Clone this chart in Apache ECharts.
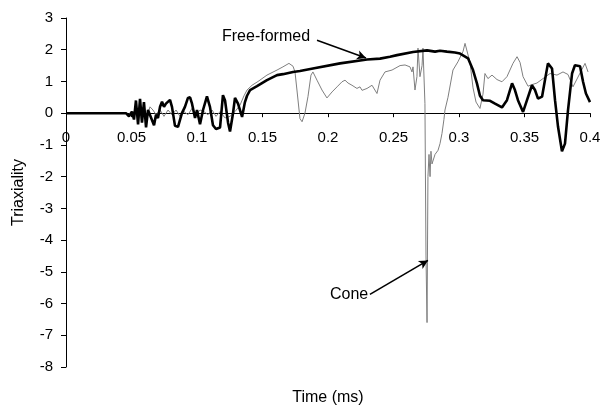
<!DOCTYPE html>
<html><head><meta charset="utf-8">
<script src="https://cdn.jsdelivr.net/npm/echarts@6/dist/echarts.min.js"></script>
<style>html,body{margin:0;padding:0;background:#fff}#c{width:600px;height:406px}</style>
</head><body><div id="c"></div>
<script>
// Free-formed (thick black) curve: time (ms) and triaxiality
var freeT = [0,0.0458,0.0481,0.0504,0.0519,0.0534,0.0550,0.0565,0.0580,0.0595,0.0611,0.0626,0.0641,0.0672,0.0687,0.0702,0.0718,0.0733,0.0748,0.0763,0.0794,0.0809,0.0832,0.0855,0.0885,0.0908,0.0931,0.0947,0.0962,0.0985,0.1000,0.1023,0.1046,0.1076,0.1099,0.1122,0.1145,0.1176,0.1198,0.1214,0.1237,0.1252,0.1275,0.1290,0.1313,0.1344,0.1366,0.1382,0.1405,0.1458,0.1534,0.1611,0.1656,0.1733,0.1786,0.1885,0.2092,0.2298,0.2397,0.2473,0.2527,0.2649,0.2756,0.2817,0.2855,0.2908,0.2969,0.3008,0.3069,0.3107,0.3137,0.3160,0.3183,0.3237,0.3275,0.3328,0.3366,0.3405,0.3427,0.3450,0.3489,0.3519,0.3557,0.3580,0.3603,0.3634,0.3656,0.3679,0.3710,0.3733,0.3756,0.3786,0.3809,0.3832,0.3863,0.3885,0.3924,0.3947,0.3969,0.4000];
var freeV = [0,0,-0.1,0.05,-0.2,0.4,-0.35,0.45,-0.3,0.35,-0.45,0.1,0.05,-0.38,-0.05,-0.15,0.2,0.36,0.2,0.3,0.42,0.2,-0.4,-0.43,0.0,0.2,0.48,0.5,0.3,-0.15,0.1,-0.35,0.1,0.53,0.2,-0.38,-0.5,-0.45,0.57,0.4,-0.3,-0.58,0.0,0.48,0.3,-0.12,0.35,0.55,0.73,0.85,1.04,1.2,1.23,1.3,1.33,1.41,1.57,1.69,1.72,1.78,1.83,1.93,1.98,1.94,1.97,1.94,1.91,1.88,1.73,1.36,0.94,0.55,0.41,0.39,0.30,0.18,0.41,0.94,0.73,0.41,0.04,0.41,0.88,0.73,0.46,0.52,1.04,1.57,1.41,0.41,-0.43,-1.2,-0.96,0.09,1.25,1.51,1.48,0.99,0.62,0.35];
// Cone (thin grey) curve
var coneT = [0,0.0458,0.0473,0.0496,0.0511,0.0534,0.0550,0.0573,0.0595,0.0618,0.0641,0.0664,0.0687,0.0718,0.0748,0.0779,0.0809,0.0840,0.0870,0.0901,0.0931,0.0962,0.0992,0.1023,0.1053,0.1084,0.1115,0.1145,0.1176,0.1214,0.1252,0.1290,0.1328,0.1359,0.1382,0.1420,0.1466,0.1534,0.1611,0.1656,0.1702,0.1733,0.1748,0.1763,0.1786,0.1802,0.1824,0.1847,0.1870,0.1885,0.1916,0.1954,0.1992,0.2031,0.2069,0.2107,0.2130,0.2153,0.2183,0.2221,0.2244,0.2260,0.2298,0.2336,0.2374,0.2397,0.2435,0.2489,0.2550,0.2588,0.2626,0.2641,0.2649,0.2664,0.2679,0.2687,0.2702,0.2718,0.2725,0.2740,0.2748,0.2756,0.2763,0.2771,0.2779,0.2786,0.2794,0.2817,0.2840,0.2855,0.2870,0.2885,0.2893,0.2916,0.2954,0.2992,0.3031,0.3046,0.3084,0.3107,0.3130,0.3160,0.3183,0.3198,0.3221,0.3252,0.3290,0.3328,0.3366,0.3412,0.3443,0.3466,0.3489,0.3527,0.3557,0.3595,0.3641,0.3695,0.3748,0.3794,0.3832,0.3870,0.3962,0.3985,0.4000];
var coneV = [0,0,-0.08,0.05,-0.1,0.1,-0.05,0.2,0.15,-0.1,0.2,0.1,-0.05,0.1,-0.1,0.1,-0.05,0.1,-0.1,0.05,-0.05,0.15,-0.05,0.1,0.05,-0.05,0.1,-0.1,0.05,-0.15,-0.1,0.05,0.25,0.55,0.73,0.88,1.0,1.2,1.36,1.46,1.57,1.48,1.3,0.73,-0.17,-0.27,0,0.52,1.2,1.3,1.04,0.73,0.48,0.67,0.83,0.99,1.04,0.95,0.88,0.78,0.83,0.72,0.78,0.88,0.62,1.04,1.3,1.36,1.5,1.52,1.46,1.3,1.46,0.73,1.15,2.05,1.15,1.5,2.05,0.3,-4.5,-6.6,-2.0,-1.3,-2.0,-1.2,-1.6,-1.3,-1.17,-0.96,-0.64,-0.2,0.1,0.5,1.36,1.62,1.95,2.2,1.6,0.8,0.35,0.15,0.6,1.25,1.09,1.2,1.06,0.99,1.15,1.57,1.78,1.6,1.15,0.85,0.9,0.95,1.09,1.25,1.2,1.3,1.22,0.83,1.57,1.3];
// annotation arrows (tail -> head) in data units
var freeArrow = [[0.1916, 2.30], [0.2290, 1.74]];
var coneArrow = [[0.2320, -5.71], [0.2763, -4.64]];
var xTicks = {min: 0, max: 0.4, step: 0.05};
var yTicks = {min: -8, max: 3, step: 1};

function pairs(t, v) { return t.map(function (x, i) { return [x, v[i]]; }); }

var FONT = 'Liberation Sans, Arial, sans-serif';
var G = {left: 66, right: 10, top: 18, bottom: 39};
var plotH = 406 - G.top - G.bottom;
// move the x axis up from the bottom edge to the y = 0 line
var zeroOffset = -plotH * (0 - yTicks.min) / (yTicks.max - yTicks.min);

var chart = echarts.init(document.getElementById('c'), null, {renderer: 'canvas'});
chart.setOption({
  animation: false,
  backgroundColor: '#fff',
  grid: {left: G.left, right: G.right, top: G.top, bottom: G.bottom, containLabel: false, outerBoundsMode: 'none'},
  xAxis: {
    type: 'value', min: xTicks.min, max: xTicks.max, interval: xTicks.step,
    position: 'bottom', offset: zeroOffset,
    name: 'Time (ms)', nameLocation: 'middle', nameGap: 276, nameMoveOverlap: false,
    nameTextStyle: {fontFamily: FONT, fontSize: 16, color: '#000'},
    axisLine: {onZero: false, lineStyle: {color: '#000', width: 1}},
    axisTick: {show: true, inside: false, length: 4, lineStyle: {color: '#000'}},
    axisLabel: {margin: 17, fontFamily: FONT, fontSize: 15, color: '#000'},
    splitLine: {show: false}
  },
  yAxis: {
    type: 'value', min: yTicks.min, max: yTicks.max, interval: yTicks.step,
    name: 'Triaxiality', nameLocation: 'middle', nameGap: 39,
    nameTextStyle: {fontFamily: FONT, fontSize: 16, color: '#000'},
    axisLine: {show: true, onZero: false, lineStyle: {color: '#000', width: 1}},
    axisTick: {show: true, length: 5, lineStyle: {color: '#000'}},
    axisLabel: {margin: 13, fontFamily: FONT, fontSize: 15, color: '#000'},
    splitLine: {show: false}
  },
  series: [
    {
      name: 'Cone', type: 'line', data: pairs(coneT, coneV), showSymbol: false,
      lineStyle: {color: '#7f7f7f', width: 1}, z: 2,
      markLine: {
        silent: true, symbol: ['none', 'arrow'], symbolSize: [7, 9],
        lineStyle: {color: '#000', width: 1.6, type: 'solid'}, label: {show: false},
        data: [[{coord: coneArrow[0]}, {coord: coneArrow[1]}]]
      }
    },
    {
      name: 'Free-formed', type: 'line', data: pairs(freeT, freeV), showSymbol: false,
      lineStyle: {color: '#000', width: 2.6}, z: 3,
      markLine: {
        silent: true, symbol: ['none', 'arrow'], symbolSize: [7, 9],
        lineStyle: {color: '#000', width: 1.6, type: 'solid'}, label: {show: false},
        data: [[{coord: freeArrow[0]}, {coord: freeArrow[1]}]]
      }
    }
  ],
  graphic: [
    {type: 'text', left: 222, top: 29, style: {text: 'Free-formed', fontFamily: FONT, fontSize: 16, fill: '#000'}},
    {type: 'text', left: 330, top: 287, style: {text: 'Cone', fontFamily: FONT, fontSize: 16, fill: '#000'}}
  ]
});
</script></body></html>
